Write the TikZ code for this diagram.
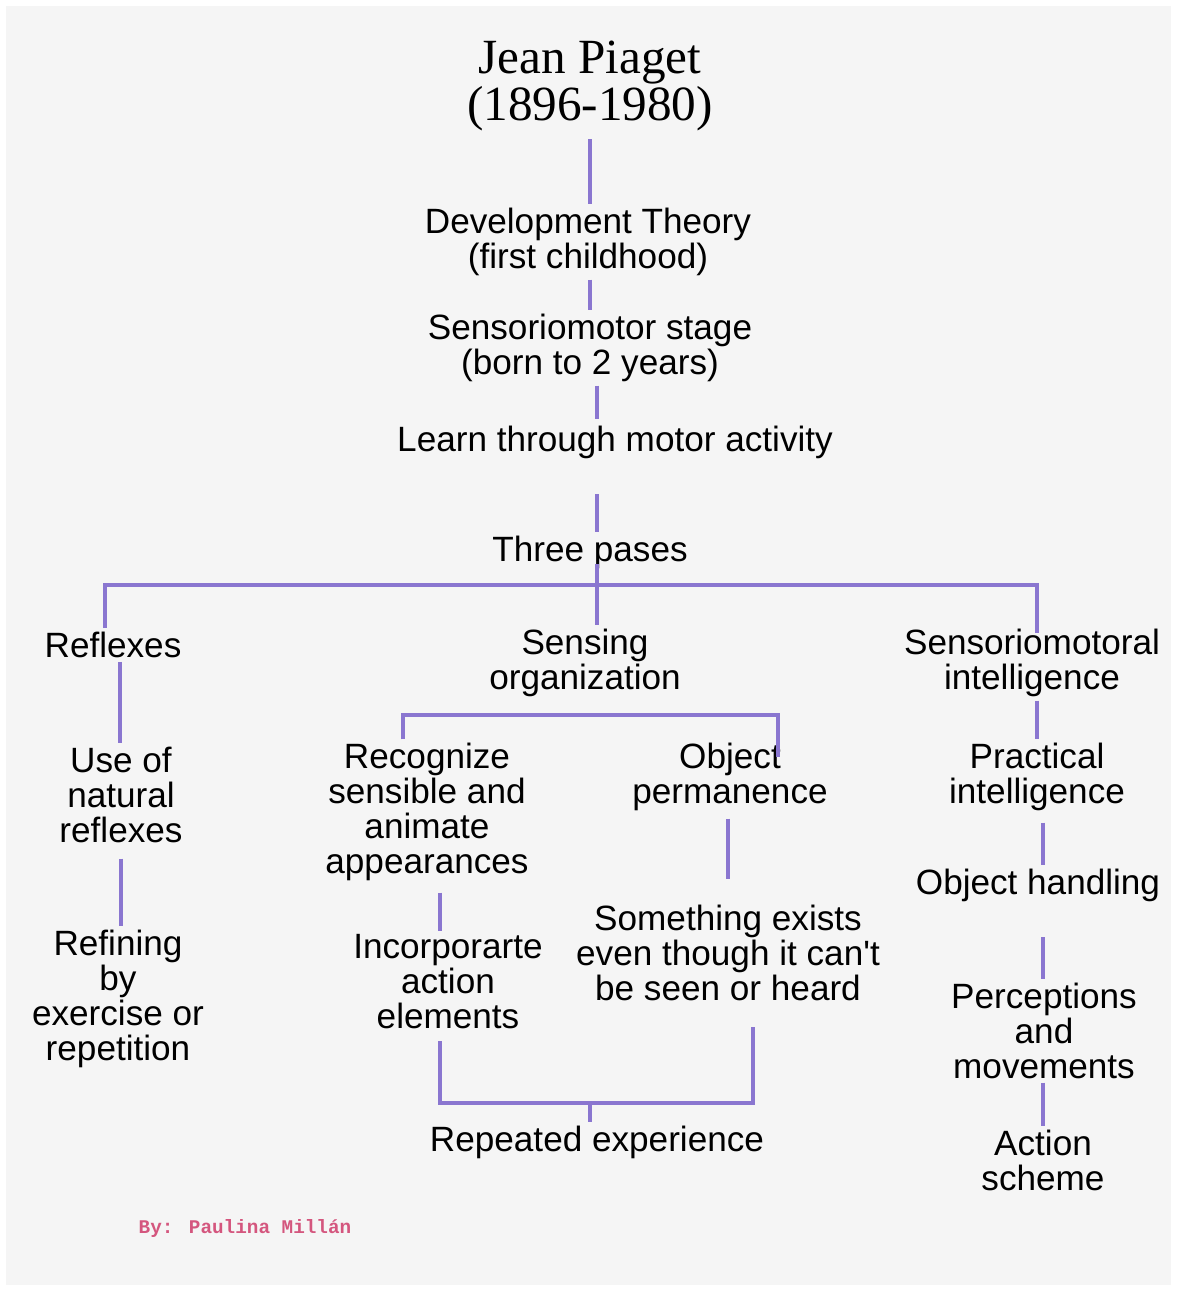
\documentclass[tikz,border=0pt]{standalone}
\usepackage{fontspec}
\setmainfont{Liberation Sans}
\newfontfamily\titlefont{Liberation Serif}
\newfontfamily\signfont{Liberation Mono}
\usetikzlibrary{calc}
\definecolor{linkpurple}{RGB}{138,118,208}
\definecolor{signpink}{RGB}{212,86,126}
\definecolor{paper}{RGB}{245,245,245}
\newcommand{\tightlines}{\lineskiplimit=-20pt\relax}

\begin{document}
\begin{tikzpicture}[x=0.02cm,y=-0.02cm,
    box/.style={align=center,inner sep=2pt,font=\fontsize{20}{19.9}\selectfont\tightlines},
    link/.style={draw=linkpurple,line width=2.3pt}]
    \useasboundingbox (0,0) rectangle (1177,1291);
    % background sheet
    \fill[white] (0,0) rectangle (1177,1291);
    \fill[paper] (6,6) rectangle (1171,1285);
    % main spine
    \node[box,font=\titlefont\fontsize{28}{27}\selectfont] (title) at (590,86) {Jean Piaget\\(1896-1980)};
    \node[box] (dev) at (588,242) {Development Theory\\(first childhood)};
    \node[box] (sensor) at (590,348) {Sensoriomotor stage\\(born to 2 years)};
    \node[box] (learn) at (615,442) {Learn through motor activity};
    \node[box] (three) at (590,552) {Three pases};
    \coordinate (split) at (597,585);
    % three phases
    \node[box] (reflex) at (113,645) {Reflexes};
    \node[box] (sensing) at (585,663) {Sensing\\organization};
    \node[box] (sensemot) at (1032,663) {Sensoriomotoral\\intelligence};
    % left column
    \node[box] (useof) at (121,795) {Use of\\natural\\reflexes};
    \node[box] (refining) at (118,999) {Refining\\by\\exercise or\\repetition};
    % middle column
    \coordinate (fork) at (590,715);
    \node[box] (recog) at (427,812) {Recognize\\sensible and\\animate\\appearances};
    \node[box] (objperm) at (730,777) {Object\\permanence};
    \node[box] (incorp) at (448,982) {Incorporarte\\action\\elements};
    \node[box] (something) at (728,953) {Something exists\\even though it can\textquotesingle t\\be seen or heard};
    \coordinate (merge) at (590,1103);
    \node[box] (repeated) at (597,1142) {Repeated experience};
    % right column
    \node[box] (practical) at (1037,777) {Practical\\intelligence};
    \node[box] (objhand) at (1038,885) {Object handling};
    \node[box] (perceptions) at (1044,1031) {Perceptions\\and\\movements};
    \node[box] (action) at (1043,1160) {Action\\scheme};
    % signature
    \node[font=\signfont\bfseries\fontsize{11}{13}\selectfont,text=signpink] (sign) at (245,1228) {By: Paulina Millán};

    % spine links
    \draw[link] ($(title.south)+(0,4)$) -- (title.south |- dev.north);
    \draw[link] (dev.south -| title) -- (title |- sensor.north);
    \draw[link] (sensor.south -| split) -- ($(learn.north -| split)+(0,-3)$);
    \draw[link] ($(learn.south -| split)+(0,32)$) -- (three.north -| split);
    \draw[link] ($(three.south -| split)+(0,-8)$) -- (split |- sensing.north);
    \draw[link] ($(reflex.north)+(-8,0)$) |- (split) -| ($(sensemot.north)+(5,8)$);
    \draw[link] ($(sensemot.north)+(5,-20)$) -- ($(sensemot.north)+(5,-10)$);
    % left links
    \draw[link] ($(reflex.south)+(7,0)$) -- ($(useof.north)+(-1,0)$);
    \draw[link] ($(useof.south)+(0,12)$) -- (useof.south |- refining.north);
    % middle links
    \draw[link] ($(recog.north)+(-24,0)$) |- (fork) -| ($(objperm.north)+(48,18)$);
    \draw[link] ($(recog.south)+(13,8)$) -- ($(incorp.north)+(-8,0)$);
    \draw[link] ($(objperm.south)+(-2,4)$) -- ($(something.north)+(0,-22)$);
    \draw[link] ($(incorp.south)+(-8,8)$) |- (merge) -| ($(something.south)+(25,22)$);
    \draw[link] (merge) -- (merge |- repeated.north);
    % right links
    \draw[link] (sensemot.south -| practical) -- (practical.north);
    \draw[link] ($(practical.south)+(6,8)$) -- ($(objhand.north)+(5,0)$);
    \draw[link] ($(objhand.south)+(5,32)$) -- ($(perceptions.north)+(-1,0)$);
    \draw[link] (perceptions.south -| action) -- (action.north);
\end{tikzpicture}
\end{document}
